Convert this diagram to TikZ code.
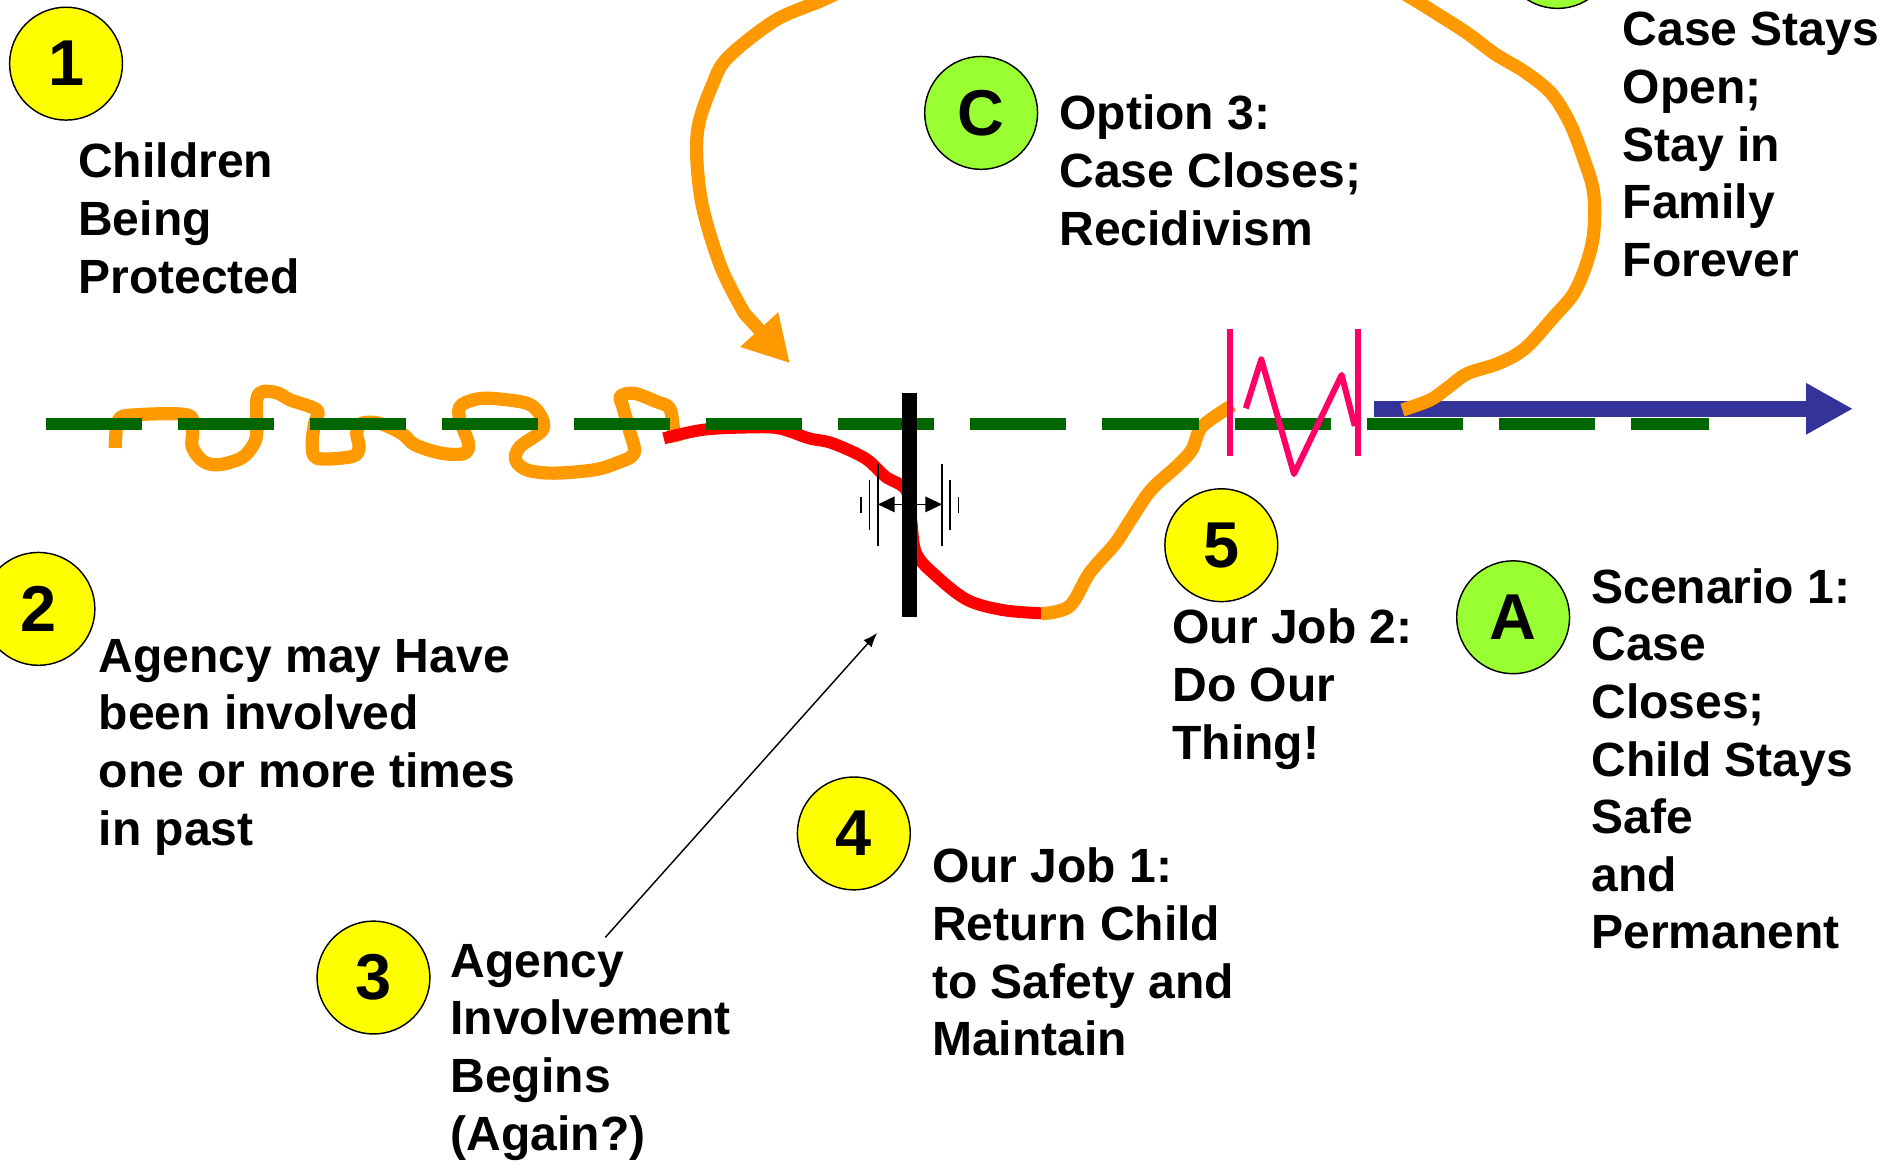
\documentclass[tikz,border=0pt]{standalone}
\usepackage{fontspec}
\setmainfont{Liberation Sans}
\usetikzlibrary{arrows.meta}

\definecolor{dotyellow}{HTML}{FFFF00}
\definecolor{dotgreen}{HTML}{99FF33}
\definecolor{pathorange}{HTML}{FF9900}
\definecolor{pathred}{HTML}{FF0000}
\definecolor{guidegreen}{HTML}{006600}
\definecolor{breakpink}{HTML}{FF0066}
\definecolor{timeblue}{HTML}{333399}

\begin{document}
\begin{tikzpicture}[
x=1pt, y=-1pt,
numdot/.style={circle, draw=black, line width=1.2pt, fill=dotyellow, minimum size=94pt, inner sep=0pt, font=\fontsize{54}{60}\selectfont\bfseries},
letterdot/.style={numdot, fill=dotgreen},
note/.style={anchor=north west, align=left, inner sep=0pt, font=\fontsize{40}{48}\selectfont\bfseries},
journey/.style={draw=pathorange, line width=11pt, line join=round},
crisis/.style={draw=pathred, line width=10pt, line join=round},
guide/.style={draw=guidegreen, line width=10pt, dash pattern=on 80pt off 30pt},
gate/.style={fill=black, minimum width=12.7pt, minimum height=186.5pt, inner sep=0pt},
reach/.style={{Triangle[length=14pt,width=13pt]}-{Triangle[length=14pt,width=13pt]}, line width=1.2pt},
hairline/.style={line width=1.2pt},
breakline/.style={draw=breakpink, line width=5pt, line join=round},
timeline/.style={draw=timeblue, line width=13pt, -{Triangle[length=39pt,width=40pt]}},
pointer/.style={-{Latex[length=12pt,width=9pt]}, line width=1.2pt},
]

\fill[white] (0,0) rectangle (1568,972);
\useasboundingbox (0,0) rectangle (1568,972);

% past involvement
\draw[journey] plot[smooth, tension=0.55] coordinates {(96,373) (98.5,350) (111.5,345.5) (156,345.5) (160.5,358) (160,372) (169,384) (182,387) (200.7,381.6) (210,372) (213.8,361) (213.8,333) (219,326) (232,327.5) (241.6,333) (264,341.4) (262,352.5) (260,369) (264,381.6) (293.7,380) (299,372) (297,361) (301,352.5) (316,352.5) (334.6,361) (345.7,370.5) (368,377.5) (386.6,377.5) (390,369) (383,350) (383,338.6) (394,333) (409,331.7) (438.7,335.8) (449.8,345.5) (451.7,358) (433,372) (429.4,383) (438.7,391.3) (461,394) (494.4,391.3) (513,385.8) (528,377.5) (524,358) (518.6,338.6) (516.7,330) (528,327.5) (546.5,334.4) (557.6,340) (561,358) (563,368)};

% crisis and recovery
\draw[crisis] plot[smooth, tension=0.55] coordinates {(552.7,365) (584.6,358) (620,356) (648.3,356.7) (673.8,365) (692.9,369) (720.5,381.7) (737.5,397) (754.5,408) (758.7,433) (763,461) (780,480) (805.5,499.6) (835,508) (867,510.7)};
\draw[journey] plot[smooth, tension=0.55] coordinates {(867,511) (890.4,505) (907.4,477) (928.7,452.5) (941.4,433) (958.4,408) (979.6,388.6) (992.4,374.7) (1000.9,355.3) (1026.4,337.3)};

\draw[guide] (38,353) -- (1423,353);

% intervention point
\node[gate] (gate) at (757.5,420.3) {};
\draw[reach] (731,420) -- (784.5,420);
\draw[hairline] (731,386) -- (731,455);
\draw[hairline] (724,400) -- (724,441);
\draw[hairline] (717,414) -- (717,427);
\draw[hairline] (784.5,386) -- (784.5,455);
\draw[hairline] (791,400) -- (791,441);
\draw[hairline] (798,414) -- (798,427);

% break
\draw[breakline] (1024,274) -- (1024,380);
\draw[breakline] (1131,274) -- (1131,380);
\draw[breakline] (1037.4,340) -- (1050.3,299.2) -- (1077.5,394.7) -- (1117.2,312.2) -- (1128.1,354.7);

\draw[timeline] (1144,340.4) -- (1543,340.4);

% recidivism loop
\draw[journey, -{Triangle[length=38pt,width=40pt]}] plot[smooth, tension=0.55] coordinates {(1167.8,341.4) (1191,333) (1206.7,322) (1222,311) (1248,302.5) (1270,290) (1294,263.7) (1310,245) (1320.3,222) (1327,195) (1327,160) (1318,130) (1307,102) (1292,78) (1270,60) (1245,45) (1222,27.8) (1195.9,11.1) (1169.7,-5) (1100,-45) (950,-75) (800,-60) (715,-15) (685,0) (646,16.7) (606.8,47.2) (593.7,69.4) (580.6,111) (583.9,166.5) (600.2,222) (619.9,261)} -- (657.8,302.5);

% markers
\node[numdot] (n1) at (55,53) {1};
\node[numdot] (n2) at (32,507) {2};
\node[numdot] (n3) at (311,814) {3};
\node[numdot] (n4) at (711,694) {4};
\node[numdot] (n5) at (1017,454) {5};
\node[letterdot] (nA) at (1260,514) {A};
\node[letterdot] (nB) at (1297,-40) {};
\node[letterdot] (nC) at (817,94) {C};

% texts
\node[note] (t1) at (65,119) {Children\\Being\\Protected};
\node[note] (t2) at (82,532) {Agency may Have\\been involved\\one or more times\\in past};
\node[note] (t3) at (375,786) {Agency\\Involvement\\Begins\\(Again?)};
\node[note] (t4) at (776,706) {Our Job 1:\\Return Child\\to Safety and\\Maintain};
\node[note] (t5) at (976,507) {Our Job 2:\\Do Our\\Thing!};
\node[note] (tA) at (1325,473) {Scenario 1:\\Case\\Closes;\\Child Stays\\Safe\\and\\Permanent};
\node[note] (tB) at (1351,10) {Case Stays\\Open;\\Stay in\\Family\\Forever};
\node[note] (tC) at (882,79) {Option 3:\\Case Closes;\\Recidivism};

\coordinate (p3) at (504,780.6);
\coordinate (p3tip) at (730.5,527);
\draw[pointer] (p3) -- (p3tip);

\end{tikzpicture}
\end{document}
